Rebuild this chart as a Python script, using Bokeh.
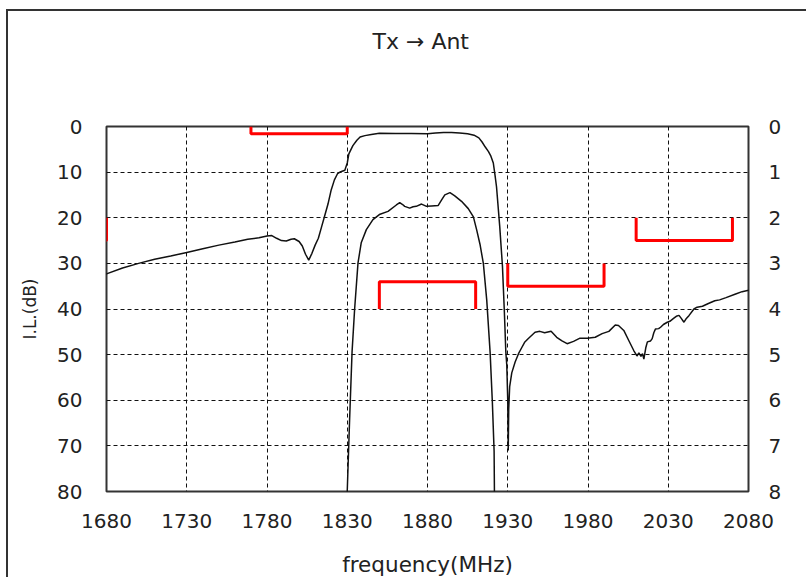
from bokeh.plotting import figure
from bokeh.models import Range1d, LinearAxis, FixedTicker, Title
from bokeh.embed import file_html
from bokeh.resources import INLINE

# ---- data ----
x_ticks = [1680, 1730, 1780, 1830, 1880, 1930, 1980, 2030, 2080]
left_ticks = [0, 10, 20, 30, 40, 50, 60, 70, 80]
right_ticks = [0, 1, 2, 3, 4, 5, 6, 7, 8]

# wide-band transmission (left axis, dB)
freq_wide = [1678, 1680, 1690, 1700, 1710, 1720, 1730, 1740, 1750, 1760, 1768, 1775,
             1780, 1783, 1786, 1789, 1792, 1795, 1797, 1800, 1802, 1804, 1806, 1808,
             1810, 1812, 1814, 1816, 1818, 1820, 1822, 1824, 1826, 1828.5, 1830, 1831,
             1833.5, 1836, 1838, 1841, 1845, 1850, 1860, 1870, 1880, 1885, 1890, 1895,
             1900, 1905, 1909, 1912, 1914, 1916, 1918, 1919.5, 1921, 1922, 1923, 1925,
             1926.7, 1927.9, 1928.8, 1929.4, 1930, 1930.3, 1930.6, 1931.2, 1932.5, 1934.6,
             1936.7, 1938.5, 1940.5, 1943, 1947, 1950, 1953, 1957, 1960.5, 1963.8,
             1967, 1971, 1975, 1979.5, 1984.5, 1988.8, 1993, 1997, 1999, 2002.3,
             2005.4, 2008.5, 2010.5, 2011.7, 2013, 2014, 2014.8, 2016, 2017, 2019,
             2020, 2021, 2022, 2024, 2025.2, 2027, 2029.4, 2031, 2033.5, 2035,
             2036.7, 2038, 2039.8, 2041, 2043, 2046, 2048, 2051.3, 2055, 2059,
             2062, 2066, 2072, 2076, 2080, 2081]
att_wide = [32.6, 32.3, 31.0, 30.0, 29.1, 28.4, 27.6, 26.8, 26.0, 25.3, 24.7, 24.4,
            24.0, 23.9, 24.5, 25.0, 25.1, 24.7, 24.6, 25.2, 26.2, 28.0, 29.3, 27.8,
            26.0, 24.5, 22.0, 19.5, 17.0, 13.9, 11.7, 10.3, 9.9, 9.6, 8.0, 6.0,
            4.2, 3.0, 2.3, 2.0, 1.75, 1.5, 1.55, 1.55, 1.6, 1.45, 1.3, 1.3,
            1.4, 1.6, 1.9, 2.5, 3.4, 4.5, 5.5, 6.5, 8.0, 10.5, 13.2, 21.9,
            30.6, 40.7, 49.4, 52.3, 60.0, 71.0, 62.0, 57.0, 54.0, 51.6,
            49.8, 48.6, 47.3, 46.4, 45.1, 44.9, 45.2, 44.9, 46.2, 47.0,
            47.6, 47.1, 46.4, 46.4, 46.2, 45.4, 44.9, 43.5, 43.6, 44.7,
            46.9, 49.1, 50.3, 49.6, 50.4, 49.8, 51.0, 48.5, 47.2, 47.0,
            46.5, 45.2, 44.4, 44.3, 44.0, 43.4, 42.9, 42.7, 42.0, 41.6,
            41.4, 42.0, 42.9, 42.2, 41.4, 40.0, 39.6, 39.4, 38.8, 38.2,
            38.0, 37.5, 36.7, 36.2, 35.9, 35.8]

# pass-band insertion loss (right axis, dB)
freq_pass = [1829.6, 1830, 1831.5, 1833, 1834.6, 1836.7, 1838.7, 1841.9, 1846, 1850,
             1855.4, 1860.6, 1862.7, 1864.5, 1865.8, 1868.9, 1871, 1873, 1876.3, 1879.4,
             1882.5, 1886.7, 1888.8, 1890.8, 1894, 1897, 1901.2, 1905.4, 1908.6, 1910.6,
             1912.7, 1914.8, 1916.9, 1919, 1920.4, 1921.5, 1921.7, 1921.8]
il_pass = [8.5, 7.99, 6.39, 4.94, 4.0, 2.99, 2.55, 2.26, 2.04, 1.93,
           1.86, 1.72, 1.67, 1.71, 1.75, 1.79, 1.76, 1.75, 1.70, 1.75,
           1.74, 1.73, 1.61, 1.50, 1.45, 1.52, 1.64, 1.80, 1.98, 2.26,
           2.58, 3.0, 3.8, 4.94, 6.03, 7.12, 7.99, 8.5]

# specification brackets (left axis, dB)
mask_start = [1620, 1770, 1850, 1930, 2010]
mask_stop = [1680, 1830, 1910, 1990, 2070]
mask_level = [25, 1.6, 34, 35, 25]
mask_edge = [20, 0, 40, 30, 20]

title_text = "Tx \u2192 Ant"

FONT = "DejaVu Sans"
TXT = "#222222"

p = figure(width=800, height=568, x_range=Range1d(1680, 2080), y_range=Range1d(80, 0),
           output_backend="svg", toolbar_location=None,
           min_border_left=98, min_border_right=60, min_border_top=115, min_border_bottom=83)
p.extra_y_ranges = {"right": Range1d(8, 0)}
p.styles = {"margin-left": "6px", "margin-top": "9px",
            "border-left": "2px solid #333333", "border-top": "2px solid #333333"}
p.title.text = ""
p.title.standoff = 0

bottom_axis = p.below[0]
left_axis = p.left[0]

# invisible spacer axis (one unlabeled, undrawn tick) that lifts the title away from the frame
spacer = LinearAxis(ticker=FixedTicker(ticks=[x_ticks[4]]), axis_line_color=None,
                    major_tick_line_color=None, minor_tick_line_color=None,
                    major_tick_in=0, major_tick_out=68, major_label_standoff=0,
                    major_label_text_font_size="1px",
                    major_label_overrides={x_ticks[4]: ""})
p.add_layout(spacer, "above")
p.add_layout(Title(text=title_text, align="left", offset=266, standoff=10,
                   text_font=FONT, text_font_size="22px", text_font_style="normal",
                   text_color=TXT), "above")

right_axis = LinearAxis(y_range_name="right")
p.add_layout(right_axis, "right")

for ax in [bottom_axis, left_axis, right_axis]:
    ax.axis_line_color = None
    ax.major_tick_line_color = None
    ax.minor_tick_line_color = None
    ax.major_tick_out = 0
    ax.major_tick_in = 0
    ax.major_label_text_font = FONT
    ax.major_label_text_font_size = "20px"
    ax.major_label_text_color = TXT
    ax.axis_label_text_font = FONT
    ax.axis_label_text_font_style = "normal"
    ax.axis_label_text_color = TXT

bottom_axis.ticker = FixedTicker(ticks=x_ticks)
left_axis.ticker = FixedTicker(ticks=left_ticks)
right_axis.ticker = FixedTicker(ticks=right_ticks)
bottom_axis.major_label_standoff = 22
left_axis.major_label_standoff = 24
right_axis.major_label_standoff = 20
bottom_axis.axis_label = "frequency(MHz)"
bottom_axis.axis_label_text_font_size = "21.5px"
bottom_axis.axis_label_standoff = 21
left_axis.axis_label = "I.L.(dB)"
left_axis.axis_label_text_font_size = "17px"
left_axis.axis_label_standoff = 14

for g in [p.xgrid[0], p.ygrid[0]]:
    g.grid_line_color = "#111111"
    g.grid_line_dash = "4 3"
    g.grid_line_width = 1

p.outline_line_color = "#333333"
p.outline_line_width = 2
p.outline_line_alpha = 1

mask_xs = [[s, s, e, e] for s, e in zip(mask_start, mask_stop)]
mask_ys = [[g, l, l, g] for l, g in zip(mask_level, mask_edge)]
p.multi_line(mask_xs, mask_ys, line_color="#ff0000", line_width=3)

p.line(freq_wide, att_wide, line_color="#111111", line_width=1.5)
p.line(freq_pass, il_pass, y_range_name="right", line_color="#111111", line_width=1.5)

open("out.html", "w").write(file_html(p, INLINE))
